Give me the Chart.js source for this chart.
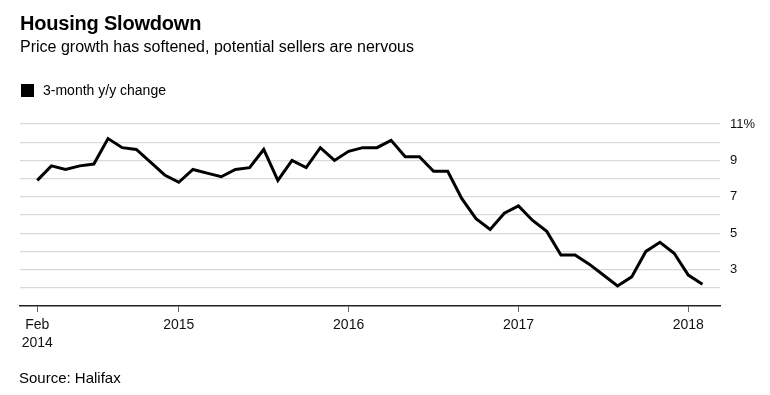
<!DOCTYPE html>
<html>
<head>
<meta charset="utf-8">
<script src="https://cdn.jsdelivr.net/npm/chart.js@4/dist/chart.umd.min.js"></script>
<style>
  html, body { margin: 0; padding: 0; background: #fff; }
  body { width: 770px; height: 395px; position: relative; overflow: hidden;
         font-family: 'Liberation Sans', Arial, sans-serif; color: #000; }
  #wrap { position: absolute; left: 0; top: 0; width: 770px; height: 395px; }
  .title { position: absolute; left: 20px; top: 13px; font-size: 20px; line-height: 20px; font-weight: bold; letter-spacing: -0.2px; }
  .sub { position: absolute; left: 20px; top: 39px; font-size: 16px; line-height: 16px; }
  .legend { position: absolute; left: 21px; top: 83px; font-size: 14px; line-height: 14px; }
  .legend i { display: inline-block; width: 13px; height: 13px; background: #000; vertical-align: top; margin: 1px 9px 0 0; }
  .source { position: absolute; left: 19px; top: 370px; font-size: 15px; line-height: 15px; }
</style>
</head>
<body>
<div id="wrap"><canvas id="chart" width="770" height="395"></canvas></div>
<div class="title">Housing Slowdown</div>
<div class="sub">Price growth has softened, potential sellers are nervous</div>
<div class="legend"><i></i>3-month y/y change</div>
<div class="source">Source: Halifax</div>
<script>
// monthly readings, Feb 2014 .. Jan 2018 (plotted at month end)
var months = [
    '2014-02', '2014-03', '2014-04', '2014-05', '2014-06', '2014-07', '2014-08', '2014-09', '2014-10', '2014-11', '2014-12',
    '2015-01', '2015-02', '2015-03', '2015-04', '2015-05', '2015-06', '2015-07', '2015-08', '2015-09', '2015-10', '2015-11', '2015-12',
    '2016-01', '2016-02', '2016-03', '2016-04', '2016-05', '2016-06', '2016-07', '2016-08', '2016-09', '2016-10', '2016-11', '2016-12',
    '2017-01', '2017-02', '2017-03', '2017-04', '2017-05', '2017-06', '2017-07', '2017-08', '2017-09', '2017-10', '2017-11', '2017-12',
    '2018-01'
];
var change = [
    7.9, 8.7, 8.5, 8.7, 8.8, 10.2, 9.7, 9.6, 8.9, 8.2, 7.8,
    8.5, 8.3, 8.1, 8.5, 8.6, 9.6, 7.9, 9.0, 8.6, 9.7, 9.0, 9.5,
    9.7, 9.7, 10.1, 9.2, 9.2, 8.4, 8.4, 6.9, 5.8, 5.2, 6.1, 6.5,
    5.7, 5.1, 3.8, 3.8, 3.3, 2.7, 2.1, 2.6, 4.0, 4.5, 3.9, 2.7,
    2.2
];
// x ticks in month-index units (year ticks sit at 1 Jan = end of previous Dec)
var xTickValues = [0, 10, 22, 34, 46];
var xTickLabels = [['Feb', '2014'], '2015', '2016', '2017', '2018'];
var yTickLabels = { 3: '3', 5: '5', 7: '7', 9: '9', 11: '11%' };

var points = change.map(function (v, i) { return { x: i, y: v }; });

new Chart(document.getElementById('chart'), {
    type: 'line',
    data: {
        datasets: [{
            label: '3-month y/y change',
            data: points,
            borderColor: '#000',
            borderWidth: 3,
            pointRadius: 0,
            tension: 0,
            fill: false
        }]
    },
    options: {
        responsive: false,
        animation: false,
        layout: { padding: { left: 20, right: 0, top: 124, bottom: 0 } },
        plugins: { legend: { display: false }, tooltip: { enabled: false } },
        scales: {
            x: {
                type: 'linear',
                min: -1.22,
                max: 48.24,
                afterFit: function (scale) { scale.height = 89; },
                afterBuildTicks: function (scale) {
                    scale.ticks = xTickValues.map(function (v) { return { value: v }; });
                },
                grid: { drawOnChartArea: false, drawTicks: true, tickLength: 6, color: '#666', lineWidth: 1 },
                border: { display: true, color: '#222', width: 1.5 },
                ticks: {
                    autoSkip: false,
                    maxRotation: 0,
                    padding: 4,
                    color: '#111',
                    font: { family: "'Liberation Sans', Arial, sans-serif", size: 14, lineHeight: 1.3 },
                    callback: function (value) {
                        var i = xTickValues.indexOf(value);
                        return i < 0 ? '' : xTickLabels[i];
                    }
                }
            },
            y: {
                position: 'right',
                min: 1,
                max: 11,
                afterFit: function (scale) { scale.width = 50; },
                grid: {
                    drawTicks: false,
                    lineWidth: 1.3,
                    color: function (ctx) { return ctx.tick && ctx.tick.value === 1 ? 'rgba(0,0,0,0)' : '#d9d9d9'; }
                },
                border: { display: false },
                ticks: {
                    stepSize: 1,
                    autoSkip: false,
                    padding: 10,
                    color: '#111',
                    font: { family: "'Liberation Sans', Arial, sans-serif", size: 13 },
                    callback: function (value) { return yTickLabels[value] || ''; }
                }
            }
        }
    }
});
</script>
</body>
</html>
